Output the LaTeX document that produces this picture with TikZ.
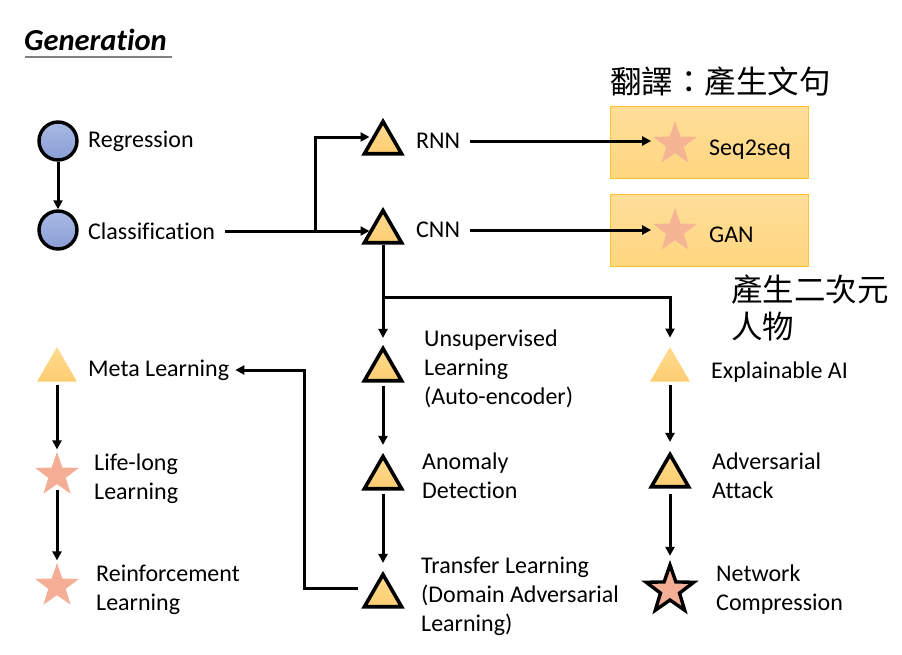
\documentclass[tikz,border=0pt]{standalone}
\usepackage{fontspec}
\setmainfont{Carlito}[Ligatures=NoCommon]
\newfontfamily\cjk{Noto Sans CJK TC}
\usetikzlibrary{shapes.geometric,arrows.meta}
\definecolor{triY}{HTML}{FDCD72}
\definecolor{triYt}{HTML}{FFDB8E}
\definecolor{starP}{HTML}{F4AE96}
\definecolor{boxF}{HTML}{FFD680}
\definecolor{boxB}{HTML}{FFC526}
\definecolor{circT}{HTML}{A9B9E3}
\definecolor{circB}{HTML}{8A9ED6}
\tikzset{
  arr/.style={line width=3pt,-{Triangle[length=9pt,width=9pt]}},
  ln/.style={line width=3pt},
  circ/.style={circle,draw,line width=3.4pt,minimum size=38pt,inner sep=0pt,top color=circT,bottom color=circB},
  tri/.style={regular polygon,regular polygon sides=3,draw,line width=3.6pt,minimum size=43pt,inner sep=0pt,top color=triYt,bottom color=triY},
  trin/.style={regular polygon,regular polygon sides=3,minimum size=46pt,inner sep=0pt,top color=triYt,bottom color=triY},
  starn/.style={star,star points=5,star point ratio=2.5,minimum size=46pt,inner sep=0pt,fill=starP},
  starb/.style={star,star points=5,star point ratio=2.5,minimum size=50pt,inner sep=0pt,fill=starP,draw,line width=3.4pt},
  lbl/.style={font=\fontsize{24}{29}\selectfont,anchor=west,align=left,inner sep=0pt},
  cjklbl/.style={font=\cjk\fontsize{31.5}{37}\selectfont,anchor=west,align=left,inner sep=0pt},
  boxn/.style={rectangle,draw=boxB,line width=1pt,top color=boxF!80!white,bottom color=boxF,minimum width=198pt,minimum height=72pt,inner sep=0pt}
}
\begin{document}
\begin{tikzpicture}[x=1pt,y=-1pt]
\useasboundingbox (0,0) rectangle (902,654);
% title
\node[anchor=west,inner sep=0pt,font=\fontsize{30.5}{34}\selectfont\bfseries\itshape] (title) at (24,40) {Generation};
\draw[gray,line width=1.5pt] (25,57) -- (172,57);
% boxes
\node[boxn] (box1) at (709,142) {};
\node[boxn] (box2) at (709,230) {};
% left column
\node[circ] (reg) at (58,141) {};
\node[lbl] (regt) at (88,141) {Regression};
\node[circ] (cls) at (58,230) {};
\node[lbl] (clst) at (88,231) {Classification};
\draw[arr] (reg) -- (cls);
% RNN / CNN
\node[tri] (rnn) at (383,143) {};
\node[lbl] (rnnt) at (416,141) {RNN};
\node[tri] (cnn) at (383,232) {};
\node[lbl] (cnnt) at (416,230) {CNN};
\coordinate (br) at (315,232);
\draw[arr,shorten <=10pt,shorten >=-1pt] (clst.east) -- (cnn.west |- clst.east);
\draw[arr,shorten >=-1pt] (br) |- ([yshift=6pt]rnn.west);
% seq2seq / GAN
\node[starn,opacity=0.85] (s1) at (675,144) {};
\node[lbl] (s1t) at (709,150) {Seq2seq};
\node[starn,opacity=0.85] (s2) at (675,231) {};
\node[lbl] (s2t) at (709,235) {GAN};
\draw[arr,shorten <=10pt,shorten >=11pt] (rnnt.east) -- (s1.west |- rnnt.east);
\draw[arr,shorten <=10pt,shorten >=11pt] (cnnt.east) -- (s2.west |- cnnt.east);
\node[cjklbl] (c1) at (610,82) {翻譯：產生文句};
\node[cjklbl] (c2) at (731,308) {產生二次元\\人物};
% middle column
\node[tri] (uns) at (383,370) {};
\node[lbl] (unst) at (424,369) {Unsupervised\\Learning\\(Auto-encoder)};
\node[tri] (ano) at (383,478) {};
\node[lbl] (anot) at (422,476) {Anomaly\\Detection};
\node[tri] (tra) at (383,596) {};
\node[lbl] (trat) at (421,596) {Transfer Learning\\(Domain Adversarial\\Learning)};
\coordinate (cj) at (383,297);
\draw[ln] (cnn.south) -- (cj);
\draw[arr,shorten >=7pt] (cj) -- (uns.north);
\draw[arr,shorten <=3pt,shorten >=8pt] (uns.south) -- (ano.north);
\draw[arr,shorten <=3pt,shorten >=8pt] (ano.south) -- (tra.north);
% right column
\node[trin] (xai) at (670,370) {};
\node[lbl] (xait) at (711,372) {Explainable AI};
\node[tri] (adv) at (670,476) {};
\node[lbl] (advt) at (712,476) {Adversarial\\Attack};
\node[starb] (net) at (670,590) {};
\node[lbl] (nett) at (716,590) {Network\\Compression};
\draw[arr,shorten >=9pt] (cj) -| (xai.north);
\draw[arr,shorten <=3pt,shorten >=9pt] (xai.south) -- (adv.north);
\draw[arr,shorten <=5pt,shorten >=4pt] (adv.south) -- (net.north);
% left lower column
\node[trin] (meta) at (57,370) {};
\node[lbl] (metat) at (88,370) {Meta Learning};
\node[starn] (life) at (57,475) {};
\node[lbl] (lifet) at (94,479) {Life-long\\Learning};
\node[starn] (rein) at (57,586) {};
\node[lbl] (reint) at (96,590) {Reinforcement\\Learning};
\draw[arr,shorten <=3pt,shorten >=2pt] (meta.south) -- (life.north);
\draw[arr,shorten <=6pt,shorten >=2pt] (life.south) -- (rein.north);
\coordinate (tl) at (358,588);
\draw[arr,shorten >=6pt] (tl) -- (304,588) |- (metat.east);
\end{tikzpicture}
\end{document}
